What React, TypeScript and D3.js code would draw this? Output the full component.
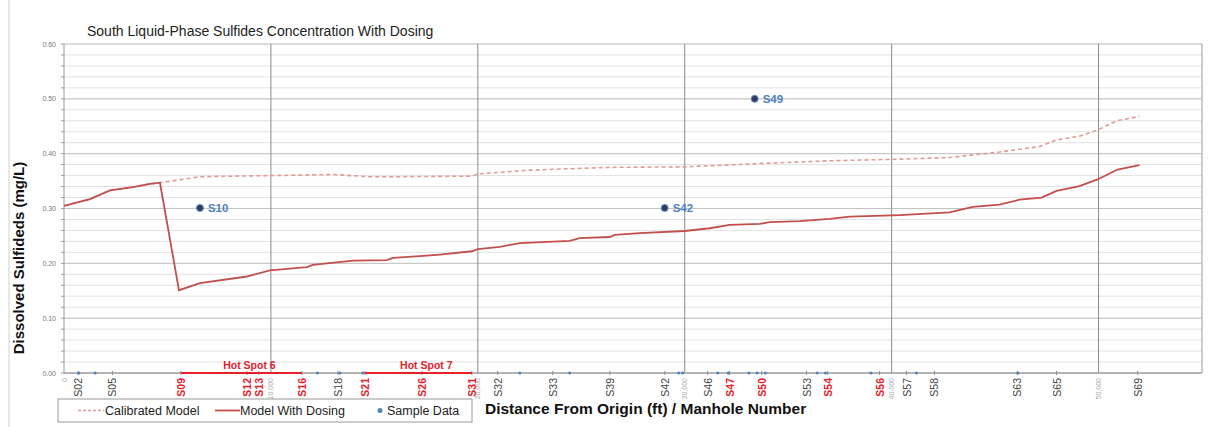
import React from 'react';
import * as d3 from 'd3';

// distance (ft) and sulfide concentration (mg/L)
const calibratedX = [0, 1256, 2222, 3333, 4155, 4638, 5556, 6570, 9855, 13043, 14686, 16280, 19710, 20000, 22512, 26377, 30000, 33623, 37005, 40386, 42802, 45217, 47150, 47971, 49082, 49952, 50870, 51981];
const calibratedY = [0.305, 0.317, 0.333, 0.339, 0.345, 0.347, 0.352, 0.358, 0.360, 0.362, 0.358, 0.358, 0.359, 0.363, 0.370, 0.375, 0.376, 0.382, 0.387, 0.390, 0.393, 0.403, 0.413, 0.425, 0.432, 0.443, 0.460, 0.468];

const dosingX = [0, 1256, 2222, 3333, 4155, 4638, 5556, 6570, 8841, 9952, 11739, 12029, 13961, 15604, 15894, 17198, 18164, 19710, 20000, 21063, 22029, 24444, 24928, 26377, 26618, 27826, 30000, 31208, 32174, 33623, 34106, 35556, 37005, 37971, 40386, 42802, 43913, 45217, 46184, 47246, 47971, 49082, 49952, 50918, 51981];
const dosingY = [0.305, 0.317, 0.333, 0.339, 0.345, 0.347, 0.151, 0.164, 0.176, 0.187, 0.193, 0.197, 0.205, 0.206, 0.210, 0.213, 0.216, 0.222, 0.226, 0.230, 0.237, 0.241, 0.246, 0.248, 0.252, 0.255, 0.259, 0.264, 0.270, 0.272, 0.275, 0.277, 0.281, 0.285, 0.288, 0.293, 0.303, 0.307, 0.316, 0.320, 0.332, 0.341, 0.353, 0.371, 0.379];

const sampleNames = ['S10', 'S42', 'S49'];
const sampleX = [6570, 29030, 33380];
const sampleY = [0.301, 0.301, 0.5];

// samples below detection plotted on the axis
const sampleZeroX = [720, 1500, 12250, 13330, 14440, 22030, 24440, 29710, 29900, 31600, 32100, 33100, 33500, 33900, 36400, 36800, 39000, 46100, 41200];

const manholeNames = ['S02', 'S05', 'S09', 'S12', 'S13', 'S16', 'S18', 'S21', 'S26', 'S31', 'S32', 'S33', 'S39', 'S42', 'S46', 'S47', 'S50', 'S53', 'S54', 'S56', 'S57', 'S58', 'S63', 'S65', 'S69'];
const manholeX = [680, 2340, 5650, 8840, 9420, 11500, 13240, 14540, 17300, 19710, 20960, 23620, 26380, 29040, 31110, 32170, 33720, 35890, 36910, 39420, 40720, 42070, 46080, 47970, 51890];
const dosedManholes = ['S09', 'S12', 'S13', 'S16', 'S21', 'S26', 'S31', 'S47', 'S50', 'S54', 'S56'];

const hotSpotNames = ['Hot Spot 6', 'Hot Spot 7'];
const hotSpotStart = [5650, 14540];
const hotSpotEnd = [11500, 19710];

const distanceTicks = [0, 10000, 20000, 30000, 40000, 50000];
const concTicks = [0, 0.1, 0.2, 0.3, 0.4, 0.5, 0.6];

const FONT = '"Liberation Sans", Arial, sans-serif';
const RED = '#c0504d';
const PINK = '#e39a98';

export default function App() {
  const width = 1224;
  const height = 427;
  const left = 64, right = 1202, top = 44, bottom = 373;

  const x = d3.scaleLinear().domain([0, 55000]).range([left, right]);
  const y = d3.scaleLinear().domain([0, 0.6]).range([bottom, top]);

  const line = d3.line<[number, number]>().x(d => x(d[0])).y(d => y(d[1]));
  const calPath = line(calibratedX.map((v, i) => [v, calibratedY[i]]))!;
  const dosPath = line(dosingX.map((v, i) => [v, dosingY[i]]))!;

  const minorY = d3.range(0, 0.6001, 0.02);
  const fmtY = d3.format('.2f');
  const fmtX = d3.format(',');

  return (
    <svg width={width} height={height} style={{ position: 'absolute', left: 0, top: 0 }} fontFamily={FONT}>
      <rect width={width} height={height} fill="#fff" />
      <line x1={9} x2={9} y1={0} y2={height} stroke="#d0d0d0" />

      <text x={87} y={36} fontSize={14} fill="#222">South Liquid-Phase Sulfides Concentration With Dosing</text>

      {/* grid */}
      {minorY.map((v, i) => (
        <line key={'m' + i} x1={left} x2={right} y1={y(v)} y2={y(v)} stroke="#e2e2e2" strokeWidth={1} />
      ))}
      {concTicks.map(v => (
        <line key={'g' + v} x1={left} x2={right} y1={y(v)} y2={y(v)} stroke="#c4c4c4" strokeWidth={1} />
      ))}
      {distanceTicks.slice(1).map(v => (
        <line key={'v' + v} x1={x(v)} x2={x(v)} y1={top} y2={bottom} stroke="#8c8c8c" strokeWidth={1} />
      ))}
      <line x1={right} x2={right} y1={top} y2={bottom} stroke="#bdbdbd" strokeWidth={1.5} />

      {/* y axis */}
      <line x1={left} x2={left} y1={top} y2={bottom} stroke="#9a9a9a" />
      {minorY.map((v, i) => (
        <line key={'yt' + i} x1={left - 3} x2={left} y1={y(v)} y2={y(v)} stroke="#9a9a9a" />
      ))}
      {concTicks.map(v => (
        <text key={'yl' + v} x={left - 8} y={y(v) + 2.5} fontSize={7} fill="#777" textAnchor="end">{fmtY(v)}</text>
      ))}
      <text transform={`translate(24,258) rotate(-90)`} fontSize={15} fontWeight="bold" textAnchor="middle" fill="#111">
        Dissolved Sulfideds (mg/L)
      </text>

      {/* x axis */}
      <line x1={left} x2={right} y1={bottom} y2={bottom} stroke="#8c8c8c" />
      {manholeX.map((v, i) => (
        <line key={'xt' + i} x1={x(v)} x2={x(v)} y1={bottom - 2} y2={bottom + 2} stroke="#8c8c8c" />
      ))}
      {distanceTicks.map(v => (
        <text key={'xl' + v} transform={`translate(${x(v) + 2.5},${bottom + 5}) rotate(-90)`} fontSize={7} fill="#aaa" textAnchor="end">{fmtX(v)}</text>
      ))}
      {manholeNames.map((n, i) => {
        const dosed = dosedManholes.includes(n);
        return (
          <text key={n} transform={`translate(${x(manholeX[i]) + 4},${bottom + 5}) rotate(-90)`} fontSize={10.5} textAnchor="end"
            fill={dosed ? '#e8202a' : '#444'} fontWeight={dosed ? 'bold' : 'normal'}>{n}</text>
        );
      })}

      {/* hot spots */}
      {hotSpotNames.map((n, i) => (
        <g key={n}>
          <line x1={x(hotSpotStart[i])} x2={x(hotSpotEnd[i])} y1={bottom} y2={bottom} stroke="#e8202a" strokeWidth={2} />
          <text x={(x(hotSpotStart[i]) + x(hotSpotEnd[i])) / 2 + 8} y={bottom - 4} fontSize={10.5} fontWeight="bold" fill="#e8202a" textAnchor="middle">{n}</text>
        </g>
      ))}
      {sampleZeroX.map((v, i) => (
        <circle key={'z' + i} cx={x(v)} cy={bottom} r={1.5} fill="#4f81bd" />
      ))}

      {/* series */}
      <path d={calPath} fill="none" stroke={PINK} strokeWidth={1.6} strokeDasharray="4,3" />
      <path d={dosPath} fill="none" stroke={RED} strokeWidth={1.8} />

      {sampleNames.map((n, i) => (
        <g key={n}>
          <circle cx={x(sampleX[i])} cy={y(sampleY[i])} r={3.5} fill="#2a3f5f" stroke="#6f8fbf" strokeWidth={1} />
          <text x={x(sampleX[i]) + 8} y={y(sampleY[i]) + 4} fontSize={11.5} fontWeight="bold" fill="#4f81bd">{n}</text>
        </g>
      ))}

      {/* legend */}
      <rect x={58} y={399} width={414} height={23} fill="#fff" stroke="#999" />
      <line x1={78} x2={104} y1={410.5} y2={410.5} stroke={PINK} strokeWidth={1.5} strokeDasharray="3,2" />
      <text x={105} y={415} fontSize={12.5} fill="#222">Calibrated Model</text>
      <line x1={215} x2={240} y1={410.5} y2={410.5} stroke={RED} strokeWidth={1.8} />
      <text x={240} y={415} fontSize={12.5} fill="#222">Model With Dosing</text>
      <circle cx={380} cy={410.5} r={2.5} fill="#4f81bd" />
      <text x={387} y={415} fontSize={12.5} fill="#222">Sample Data</text>

      <text x={485} y={414} fontSize={15.5} fontWeight="bold" fill="#111">Distance From Origin (ft) / Manhole Number</text>
    </svg>
  );
}
